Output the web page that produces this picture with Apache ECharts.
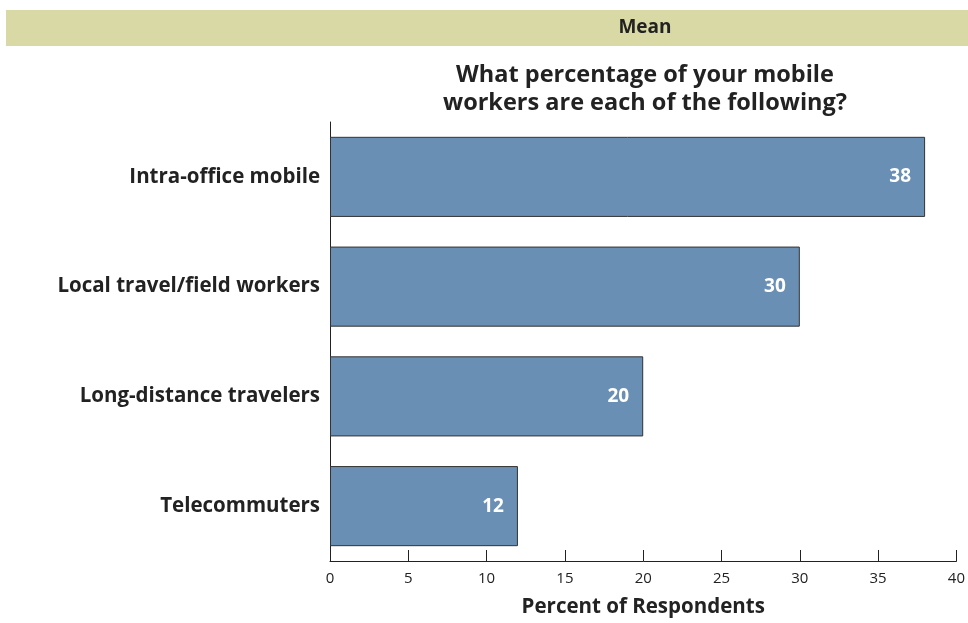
<!DOCTYPE html>
<html>
<head>
<meta charset="utf-8">
<script src="https://cdn.jsdelivr.net/npm/echarts@6/dist/echarts.min.js"></script>
<style>html,body{margin:0;padding:0;background:#fff}#c{width:968px;height:623px}</style>
</head>
<body>
<div id="c"></div>
<script>
const categories = ['Intra-office mobile', 'Local travel/field workers', 'Long-distance travelers', 'Telecommuters'];
const values = [38, 30, 20, 12];
const xTicks = [0, 5, 10, 15, 20, 25, 30, 35, 40];
const headerText = 'Mean';
const titleLines = ['What percentage of your mobile', 'workers are each of the following?'];
const axisName = 'Percent of Respondents';

const font = '"Open Sans", Lato, sans-serif';
const chart = echarts.init(document.getElementById('c'), null, {renderer: 'canvas'});
chart.setOption({
  animation: false,
  graphic: [
    {type: 'rect', shape: {x: 6, y: 10, width: 962, height: 36}, style: {fill: '#d8d9a4'}, z: 0},
    {type: 'text', x: 645, y: 28, style: {text: headerText, font: 'bold 19px ' + font, fill: '#222', align: 'center', verticalAlign: 'middle'}},
    {type: 'text', x: 645, y: 89, style: {text: titleLines.join('\n'), font: 'bold 23.5px ' + font, lineHeight: 28, fill: '#222', align: 'center', verticalAlign: 'middle'}}
  ],
  grid: {left: 330, right: 11, top: 122, bottom: 62, containLabel: false},
  xAxis: {
    type: 'value', min: 0, max: 40, interval: 5,
    axisLine: {show: true, lineStyle: {color: '#222', width: 1}},
    axisTick: {show: true, inside: true, length: 11, lineStyle: {color: '#222'}},
    splitLine: {show: false},
    axisLabel: {color: '#222', fontSize: 15, fontFamily: font, margin: 10,
      formatter: v => xTicks.includes(v) ? String(v) : ''},
    name: axisName, nameLocation: 'middle', nameGap: 36,
    nameTextStyle: {color: '#222', fontSize: 20.5, fontWeight: 'bold', fontFamily: font}
  },
  yAxis: {
    type: 'category', data: categories, inverse: true,
    axisLine: {show: true, lineStyle: {color: '#222', width: 1}},
    axisTick: {show: false},
    axisLabel: {color: '#222', fontSize: 20.5, fontWeight: 'bold', fontFamily: font, margin: 10}
  },
  series: [{
    type: 'bar', data: values, barCategoryGap: '27%',
    itemStyle: {color: '#6a8fb5', borderColor: '#333', borderWidth: 1},
    label: {show: true, position: 'insideRight', distance: 14, color: '#fff', fontSize: 19, fontWeight: 'bold', fontFamily: font}
  }]
});
</script>
</body>
</html>
